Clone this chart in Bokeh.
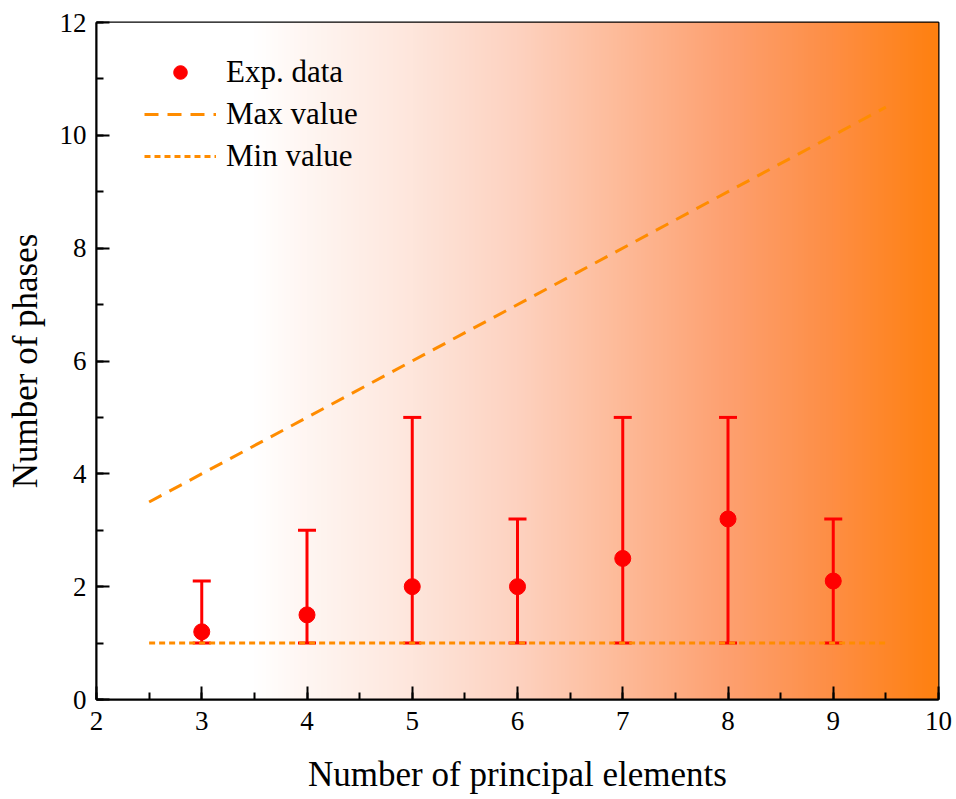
import numpy as np
from bokeh.plotting import figure
from bokeh.models import (ColumnDataSource, Whisker, TeeHead, Range1d, SingleIntervalTicker,
                          Legend, LegendItem)
from bokeh.embed import file_html
from bokeh.resources import INLINE

# ---- data ----
n_elements = [3, 4, 5, 6, 7, 8, 9]
phases_mean = [1.2, 1.5, 2.0, 2.0, 2.5, 3.2, 2.1]
phases_upper = [2.1, 3.0, 5.0, 3.2, 5.0, 5.0, 3.2]
phases_lower = [1, 1, 1, 1, 1, 1, 1]
max_x = [2.5, 9.5]
max_y = [3.5, 10.5]
min_x = [2.5, 9.5]
min_y = [1, 1]

FONT = "Liberation Serif"
ORANGE = "#FF8C00"
RED = "#FF0000"

p = figure(width=956, height=799, output_backend="svg", toolbar_location=None,
           x_range=Range1d(2, 10), y_range=Range1d(0, 12),
           min_border_left=96, min_border_right=18, min_border_top=22, min_border_bottom=100)
p.background_fill_color = "white"
p.border_fill_color = "white"
p.grid.visible = False
p.outline_line_color = "black"
p.outline_line_width = 2

# ---- gradient background ----
stops_x = [2.0, 3.5, 4.0, 5.0, 6.0, 7.0, 8.0, 9.0, 10.0]
stops_r = [255, 255, 255, 254, 253, 253, 253, 254, 255]
stops_g = [255, 255, 246, 230, 210, 186, 160, 142, 128]
stops_b = [255, 255, 242, 220, 192, 152, 112, 68, 16]
N = 420
xs = np.linspace(2, 10, N)
img = np.empty((1, N), dtype=np.uint32)
view = img.view(dtype=np.uint8).reshape((1, N, 4))
view[0, :, 0] = np.interp(xs, stops_x, stops_r).astype(np.uint8)
view[0, :, 1] = np.interp(xs, stops_x, stops_g).astype(np.uint8)
view[0, :, 2] = np.interp(xs, stops_x, stops_b).astype(np.uint8)
view[0, :, 3] = 255
p.image_rgba(image=[img], x=2, y=0, dw=8, dh=12, level="image")

# ---- lines ----
r_max = p.line(max_x, max_y, line_color=ORANGE, line_width=3, line_dash="14 9")
r_min = p.line(min_x, min_y, line_color=ORANGE, line_width=3, line_dash="6 4")

# ---- error bars ----
src = ColumnDataSource(dict(x=n_elements, y=phases_mean, upper=phases_upper, lower=phases_lower))
w = Whisker(source=src, base="x", upper="upper", lower="lower",
            line_color=RED, line_width=3,
            upper_head=TeeHead(size=18, line_color=RED, line_width=3),
            lower_head=TeeHead(size=18, line_color=RED, line_width=3))
p.add_layout(w)
r_pts = p.scatter("x", "y", source=src, size=16, fill_color=RED, line_color=RED)

# ---- axes ----
for ax in (p.xaxis[0], p.yaxis[0]):
    ax.axis_line_width = 2
    ax.axis_line_color = "black"
    ax.major_tick_in = 13
    ax.major_tick_out = 0
    ax.minor_tick_in = 7
    ax.minor_tick_out = 0
    ax.major_tick_line_width = 2
    ax.minor_tick_line_width = 2
    ax.major_tick_line_color = "black"
    ax.minor_tick_line_color = "black"
    ax.major_label_text_font = FONT
    ax.major_label_text_font_size = "27px"
    ax.major_label_text_color = "black"
    ax.axis_label_text_font = FONT
    ax.axis_label_text_font_size = "35px"
    ax.axis_label_text_font_style = "normal"
    ax.axis_label_text_color = "black"

p.xaxis.ticker = SingleIntervalTicker(interval=1, num_minor_ticks=2)
p.yaxis.ticker = SingleIntervalTicker(interval=2, num_minor_ticks=2)
p.xaxis.axis_label = "Number of principal elements"
p.yaxis.axis_label = "Number of phases"
p.xaxis.major_label_standoff = 12
p.yaxis.major_label_standoff = 10
p.xaxis.axis_label_standoff = 22
p.yaxis.axis_label_standoff = 12

# ---- legend ----
legend = Legend(items=[LegendItem(label="Exp. data", renderers=[r_pts]),
                       LegendItem(label="Max value", renderers=[r_max]),
                       LegendItem(label="Min value", renderers=[r_min])],
                border_line_color=None, background_fill_alpha=0,
                label_text_font=FONT, label_text_font_size="31px",
                label_text_color="black",
                glyph_width=72, glyph_height=34, spacing=6, label_standoff=10,
                margin=0, padding=0)
legend.location = (48, 525)
p.add_layout(legend)

open("out.html", "w").write(file_html(p, INLINE))
